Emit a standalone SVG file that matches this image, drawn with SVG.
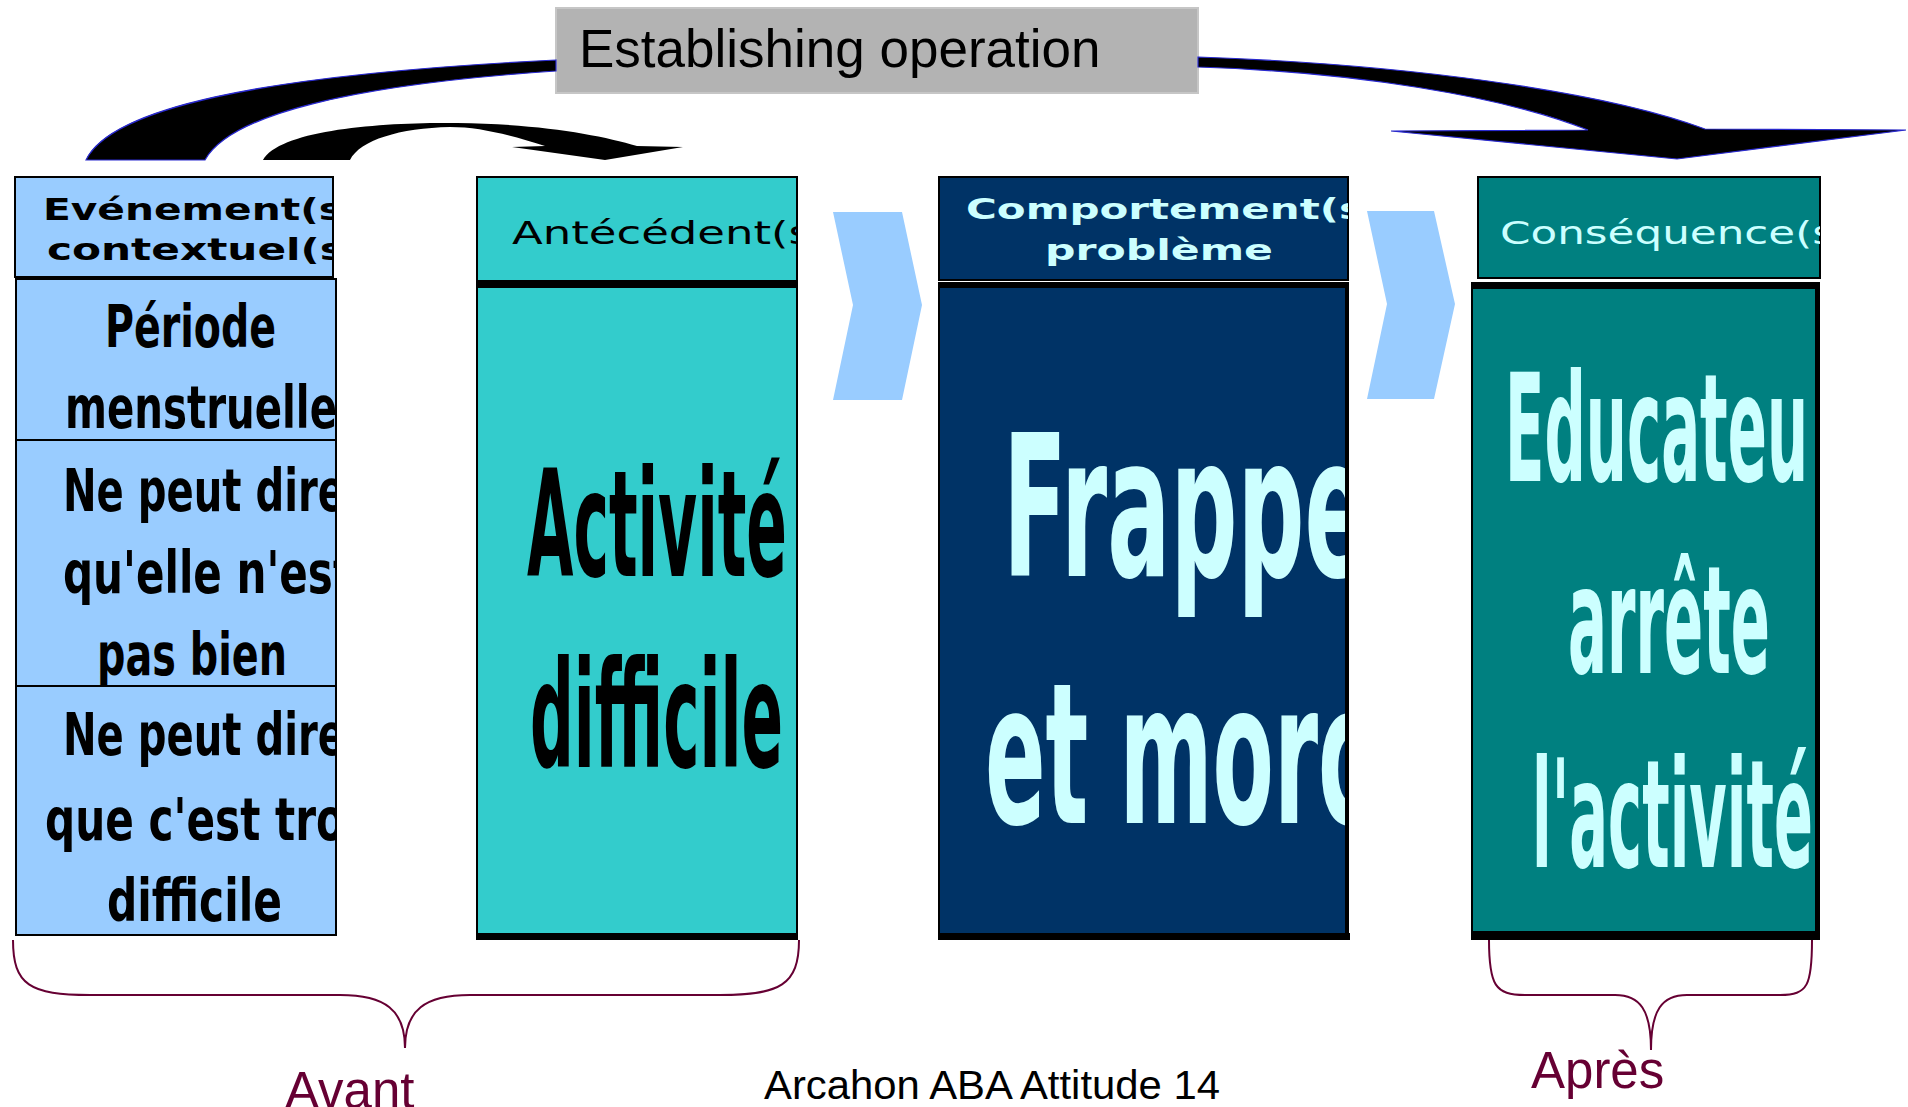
<svg xmlns="http://www.w3.org/2000/svg" width="1908" height="1107" viewBox="0 0 1908 1107">
<style>
.hd{font-family:"DejaVu Sans",Verdana,sans-serif;}
.bd{font-family:"DejaVu Sans",Verdana,sans-serif;font-weight:bold;}
.lab{font-family:"Liberation Sans",Arial,sans-serif;}
.box{stroke:#000;stroke-width:2;}
.bar{fill:#000;}
.brace{fill:none;stroke:#660033;stroke-width:2;}
.chev{fill:#99ccff;}
.arr{fill:#000;stroke:#2a2ad0;stroke-width:1.2;}
</style>
<defs>
<clipPath id="c1h"><rect x="15" y="177" width="318" height="100"/></clipPath>
<clipPath id="c1b"><rect x="16" y="279" width="319" height="656"/></clipPath>
<clipPath id="c2h"><rect x="477" y="177" width="320" height="104"/></clipPath>
<clipPath id="c2b"><rect x="477" y="286" width="320" height="652"/></clipPath>
<clipPath id="c3h"><rect x="939" y="177" width="409" height="103"/></clipPath>
<clipPath id="c3b"><rect x="939" y="286" width="406" height="652"/></clipPath>
<clipPath id="c4h"><rect x="1478" y="177" width="342" height="101"/></clipPath>
<clipPath id="c4b"><rect x="1472" y="282" width="343" height="658"/></clipPath>
</defs>
<rect width="1908" height="1107" fill="#fff"/>

<g id="establishing-operation">
<rect x="556" y="8" width="642" height="85" fill="#b3b3b3" stroke="#c6c6c6" stroke-width="2"/>
<text class="lab" x="579" y="67" font-size="53" fill="#000">Establishing operation</text>
</g>

<g id="connectors">
<path class="arr" d="M86,160 C110,110 250,75 556,60 L556,71 C350,85 230,115 205,160 Z"/>
<path class="arr" d="M1198,57 C1400,64 1600,90 1705,129 L1906,130 L1677,159 L1391,131 L1588,130 C1500,95 1350,72 1198,67 Z"/>
<path fill="#000" d="M263,160 C280,130 380,122 457,123 C540,124 600,135 637,146 L683,147 L605,160 L512,147 L545,146 C510,135 480,127 450,127 C400,128 360,140 350,160 Z"/>
<polygon class="chev" points="833,212 902,212 922,305 902,400 833,400 853,305"/>
<polygon class="chev" points="1367,211 1434,211 1455,304 1434,399 1367,399 1387,304"/>
</g>

<g id="evenement">
<rect class="box" x="15" y="177" width="318" height="100" fill="#99ccff"/>
<g clip-path="url(#c1h)" class="bd" font-size="30" fill="#000">
<text x="43" y="220" textLength="300" lengthAdjust="spacingAndGlyphs">Evénement(s</text>
<text x="47" y="260" textLength="298" lengthAdjust="spacingAndGlyphs">contextuel(s</text>
</g>
<rect class="box" x="16" y="279" width="320" height="161" fill="#99ccff"/>
<rect class="box" x="16" y="440" width="320" height="246" fill="#99ccff"/>
<rect class="box" x="16" y="686" width="320" height="249" fill="#99ccff"/>
<g clip-path="url(#c1b)" class="bd" font-size="58" fill="#000">
<text x="105" y="347" textLength="171" lengthAdjust="spacingAndGlyphs">Période</text>
<text x="65" y="428" textLength="272" lengthAdjust="spacingAndGlyphs">menstruelle</text>
<text x="63" y="511" textLength="282" lengthAdjust="spacingAndGlyphs">Ne peut dire</text>
<text x="63" y="593" textLength="290" lengthAdjust="spacingAndGlyphs">qu'elle n'est</text>
<text x="97" y="675" textLength="190" lengthAdjust="spacingAndGlyphs">pas bien</text>
<text x="63" y="755" textLength="282" lengthAdjust="spacingAndGlyphs">Ne peut dire</text>
<text x="45" y="840" textLength="300" lengthAdjust="spacingAndGlyphs">que c'est tro</text>
<text x="107" y="921" textLength="175" lengthAdjust="spacingAndGlyphs">difficile</text>
</g>
</g>

<g id="antecedent">
<rect class="box" x="477" y="177" width="320" height="104" fill="#33cccc"/>
<text class="hd" clip-path="url(#c2h)" x="512" y="244" font-size="32" fill="#000" textLength="300" lengthAdjust="spacingAndGlyphs">Antécédent(s</text>
<rect class="box" x="477" y="286" width="320" height="650" fill="#33cccc"/>
<rect class="bar" x="476" y="282" width="322" height="6"/>
<rect class="bar" x="476" y="933" width="322" height="7"/>
<g clip-path="url(#c2b)" class="bd" font-size="148" fill="#000">
<text x="527" y="576" textLength="260" lengthAdjust="spacingAndGlyphs">Activité</text>
<text x="530" y="767" textLength="253" lengthAdjust="spacingAndGlyphs">difficile</text>
</g>
</g>

<g id="comportement">
<rect class="box" x="939" y="177" width="409" height="103" fill="#003366"/>
<g clip-path="url(#c3h)" class="bd" font-size="28" fill="#ccffff">
<text x="966" y="219" textLength="398" lengthAdjust="spacingAndGlyphs">Comportement(s</text>
<text x="1045" y="260" textLength="228" lengthAdjust="spacingAndGlyphs">problème</text>
</g>
<rect class="box" x="939" y="286" width="408" height="650" fill="#003366"/>
<rect class="bar" x="938" y="282" width="411" height="6"/>
<rect class="bar" x="938" y="933" width="412" height="7"/>
<rect class="bar" x="1345" y="286" width="4" height="650"/>
<g clip-path="url(#c3b)" class="bd" font-size="196" fill="#ccffff">
<text x="1003" y="576" textLength="365" lengthAdjust="spacingAndGlyphs">Frappe</text>
<text x="985" y="823" textLength="386" lengthAdjust="spacingAndGlyphs">et morc</text>
</g>
</g>

<g id="consequence">
<rect class="box" x="1478" y="177" width="342" height="101" fill="#008080"/>
<text class="hd" clip-path="url(#c4h)" x="1500" y="244" font-size="32" fill="#ccffff" textLength="335" lengthAdjust="spacingAndGlyphs">Conséquence(s</text>
<rect class="box" x="1472" y="283" width="346" height="654" fill="#008080"/>
<rect class="bar" x="1471" y="282" width="349" height="7"/>
<rect class="bar" x="1471" y="931" width="349" height="9"/>
<rect class="bar" x="1815" y="282" width="5" height="658"/>
<g clip-path="url(#c4b)" class="bd" font-size="150" fill="#ccffff">
<text x="1505" y="481" textLength="303" lengthAdjust="spacingAndGlyphs">Educateu</text>
<text x="1568" y="673" textLength="202" lengthAdjust="spacingAndGlyphs">arrête</text>
<text x="1532" y="867" textLength="281" lengthAdjust="spacingAndGlyphs">l'activité</text>
</g>
</g>

<g id="avant">
<path class="brace" d="M13,940 C13,985 30,995 90,995 L340,995 C385,995 405,1010 405,1048 C405,1010 425,995 470,995 L720,995 C780,995 799,985 799,940"/>
<text class="lab" x="285" y="1108" font-size="51" fill="#660033">Avant</text>
</g>

<g id="apres">
<path class="brace" d="M1489,940 C1489,985 1495,995 1525,995 L1615,995 C1640,995 1651,1010 1651,1050 C1651,1010 1662,995 1687,995 L1780,995 C1808,995 1812,985 1812,940"/>
<text class="lab" x="1531" y="1088" font-size="51" fill="#660033">Après</text>
</g>

<g id="footer">
<text class="lab" x="764" y="1099" font-size="41" fill="#000" textLength="456" lengthAdjust="spacingAndGlyphs">Arcahon ABA Attitude 14</text>
</g>
</svg>
